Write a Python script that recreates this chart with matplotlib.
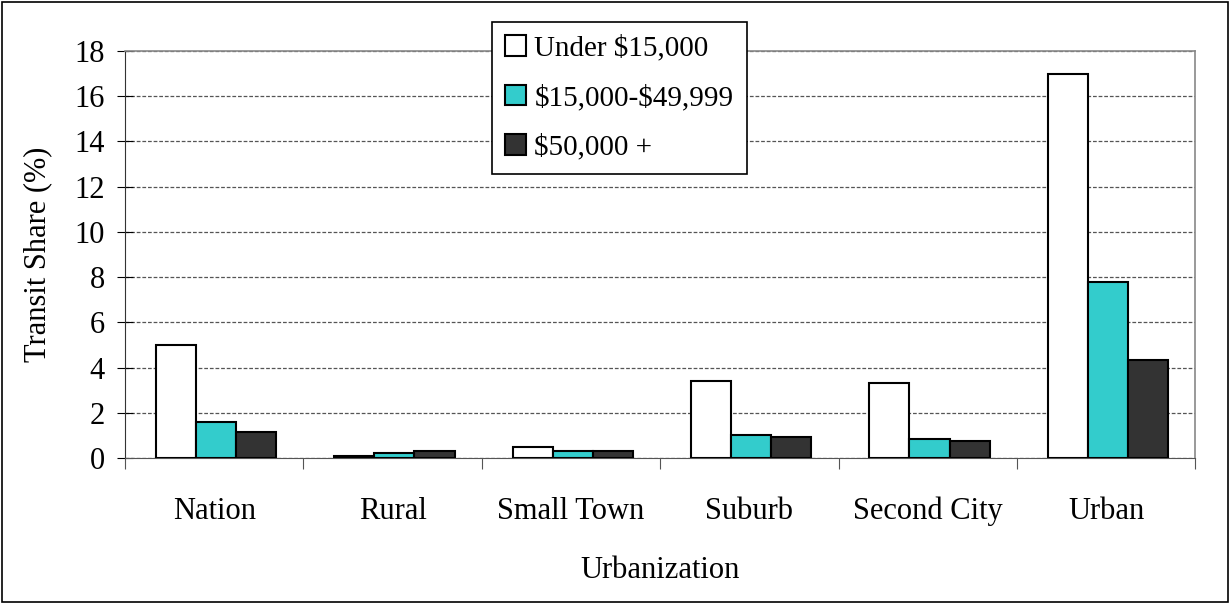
import matplotlib.pyplot as plt
import numpy as np
from matplotlib.patches import Rectangle

plt.rcParams["font.family"] = ["Liberation Serif", "DejaVu Serif"]

# data
categories = ["Nation", "Rural", "Small Town", "Suburb", "Second City", "Urban"]
under_15k = [5.0, 0.1, 0.5, 3.4, 3.3, 17.0]
mid_15k_50k = [1.6, 0.2, 0.3, 1.0, 0.83, 7.8]
over_50k = [1.15, 0.3, 0.3, 0.93, 0.76, 4.34]
series_names = ["Under \\$15,000", "\\$15,000-\\$49,999", "\\$50,000 +"]
colors = ["white", "#33cccc", "#333333"]

FS = 22

fig = plt.figure(figsize=(12.32, 6.04), dpi=100)
ax = fig.add_axes([0.1015, 0.2417, 0.8687, 0.6739])

x = np.arange(len(categories))
w = 0.225
for i, (vals, name, col) in enumerate(zip([under_15k, mid_15k_50k, over_50k], series_names, colors)):
    ax.bar(x + 0.01 + (i - 1) * w, vals, width=w, color=col, edgecolor="black",
           linewidth=1.5, label=name, zorder=3)

ax.set_xlim(-0.5, len(categories) - 0.5)
ax.set_ylim(0, 18)
ax.set_yticks(range(0, 19, 2))
ax.yaxis.grid(True, linestyle=(0, (3, 1.5)), color="#555555", linewidth=0.9, zorder=0)

# category boundaries as ticks, names centred between them
ax.set_xticks(np.arange(-0.5, len(categories), 1.0))
ax.set_xticklabels([])
ax.set_xticks(x, minor=True)
ax.set_xticklabels(categories, minor=True)
ax.tick_params(axis="x", which="major", length=8, direction="out", color="#555555")
ax.tick_params(axis="x", which="minor", length=0, pad=28, labelsize=FS)
ax.tick_params(axis="y", length=11, direction="inout", labelsize=FS, pad=9)

for s in ["top", "right"]:
    ax.spines[s].set_color("#888888")
    ax.spines[s].set_linewidth(1.2)
ax.spines["left"].set_color("#333333")
ax.spines["bottom"].set_color("#555555")

ax.set_ylabel("Transit Share (%)", fontsize=FS, labelpad=16)
ax.set_xlabel("Urbanization", fontsize=FS, labelpad=21)

leg = ax.legend(loc="upper left", bbox_to_anchor=(492 / 1232, 1 - 22 / 604),
                bbox_transform=fig.transFigure, fontsize=21, frameon=True,
                fancybox=False, framealpha=1, edgecolor="black",
                handlelength=0.7, handleheight=0.7, handletextpad=0.3,
                labelspacing=0.78, borderpad=0.45, borderaxespad=0)
leg.get_frame().set_linewidth(1.2)
leg.set_zorder(5)

# outer frame around the whole chart
fig.patches.append(Rectangle((0.002, 0.004), 0.995, 0.992, transform=fig.transFigure,
                             fill=False, edgecolor="black", linewidth=1.2))

fig.savefig("out.png", dpi=100)
